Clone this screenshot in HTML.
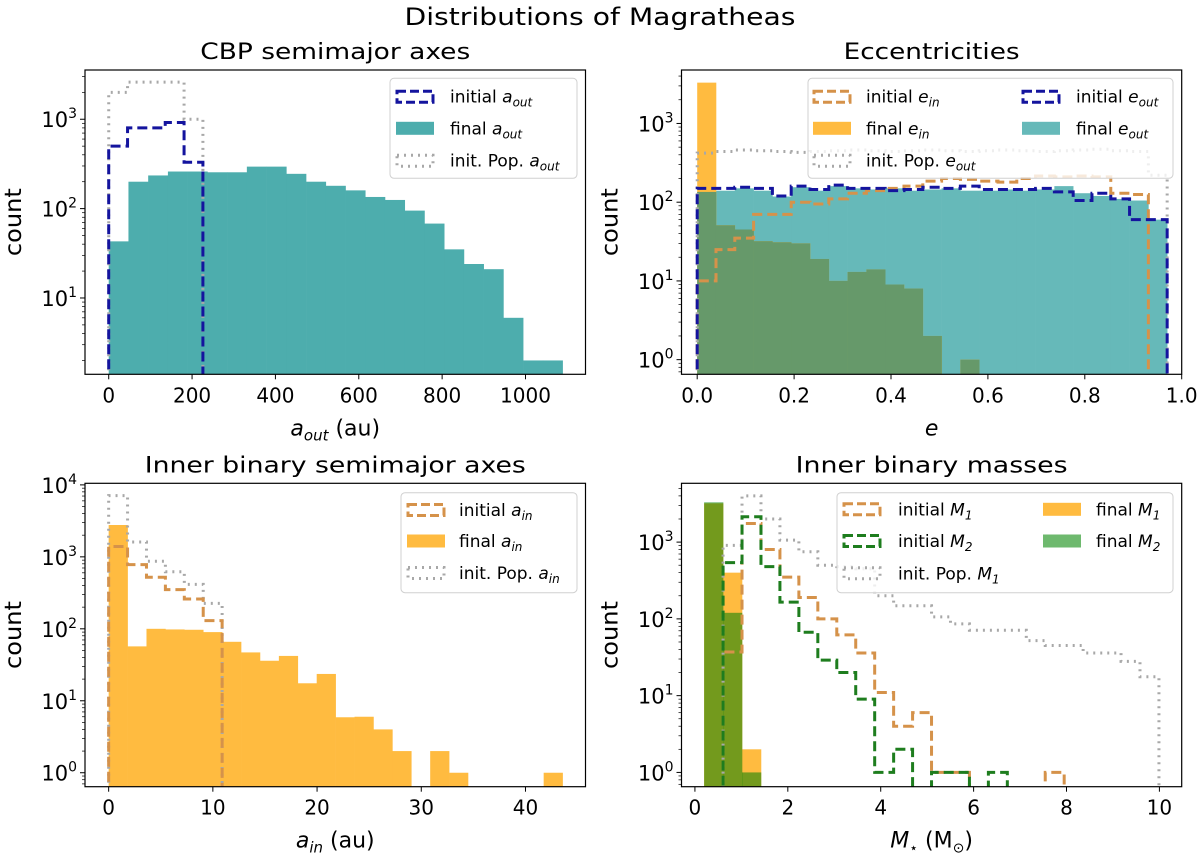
<!DOCTYPE html>
<html><head><meta charset="utf-8"><style>
html,body{margin:0;padding:0;background:#fff;}
svg{display:block;font-family:"DejaVu Sans","Liberation Sans",sans-serif;}
</style></head><body>
<svg id="fig" width="1200" height="855" viewBox="0 0 1200 855" xmlns="http://www.w3.org/2000/svg">
<text x="600" y="25" font-size="24" text-anchor="middle" textLength="391" lengthAdjust="spacingAndGlyphs">Distributions of Magratheas</text>
</svg>
<script>
// ---------- DATA ----------
// Panel 1: CBP semimajor axes
const p1FinalWidth = 47.35;
const p1FinalAout = [43,200,235,260,260,255,255,295,295,245,200,180,160,135,125,95,68,35,24,21,6,2,2];
const p1InitWidth = 45.2;
const p1InitialAout = [500,800,800,920,330];
const p1InitPopAout = [2000,2600,2600,2600,1000];
// Panel 2: eccentricities
const p2Width = 0.0388;
const p2FinalEin = [3300,51,45,32,31,30,19,10,13,14,9,8,2,0,1,0,0,0,0,0,0,0,0,0,0];
const p2FinalEout = [135,140,150,140,118,155,140,160,150,145,150,140,145,150,140,140,145,140,145,160,130,120,110,105,60];
const p2InitialEin = [10,25,35,70,70,100,95,110,130,140,150,160,185,200,195,185,180,200,215,210,215,210,130,125];
const p2InitialEout = [150,150,155,150,120,160,145,165,150,150,140,145,155,150,160,145,145,145,150,135,105,130,110,60,60];
const p2InitPopEout = [420,440,460,450,440,430,440,450,460,450,440,450,460,450,440,450,460,450,440,450,460,470,450,440,220];
// Panel 3: inner binary semimajor axes
const p3Width = 1.815;
const p3FinalAin = [2770,57,100,98,97,90,66,47,36,42,17.5,23.6,5.9,6,4,2,0,2,1,0,0,0,0,1];
const p3InitialAin = [1390,780,520,350,260,130];
const p3InitPopAin = [7100,1610,870,620,415,226];
// Panel 4: inner binary masses
const p4Start = 0.198, p4Width = 0.408;
const p4FinalM1 = [3200,400,2];
const p4FinalM2 = [3300,120,1];
const p4InitialM1 = [0,37,1750,800,350,190,100,62,36,11,4,6,1,1,0,0,0,0,1];
const p4InitialM2 = [0,540,2140,480,165,67,29,20,9,1,2,0,1,1,0,1];
const p4InitPopM1 = [0,906,4000,2000,1060,750,500,480,450,200,148,148,106,86,71,71,71,52,45,45,36,36,28,17.6];
// tick labels
const p1XTicks = [0,200,400,600,800,1000];
const p2XTicks = [0.0,0.2,0.4,0.6,0.8,1.0];
const p3XTicks = [0,10,20,30,40];
const p4XTicks = [0,2,4,6,8,10];

// ---------- DRAWING ----------
const NS = "http://www.w3.org/2000/svg";
const svg = document.getElementById('fig');
function el(tag, attrs, parent){
  const e = document.createElementNS(NS, tag);
  for (const k in attrs) e.setAttribute(k, attrs[k]);
  (parent||svg).appendChild(e);
  return e;
}
const TEAL='#4dadad', TEAL2='#66b9b9', ORANGE='#ffbb40', BLUE='#14149e', BROWN='#d5924a', GREY='#a8a8a8', DGREEN='#1e7d1e', OLIVE_G='rgba(0,128,0,0.55)', ECC_G='#66996a';

function makeAxes(cfg){
  const g = el('g',{});
  
  
  const xs = v => cfg.L + (v - cfg.xmin)/(cfg.xmax - cfg.xmin)*(cfg.R - cfg.L);
  const ys = v => { const lv = v>0 ? Math.log10(v) : cfg.lmin-1; return cfg.B - (lv - cfg.lmin)/(cfg.lmax - cfg.lmin)*(cfg.B - cfg.T); };
  const cid = 'clip-'+cfg.name;
  const defs = el('defs',{},g);
  const cp = el('clipPath',{id:cid},defs);
  el('rect',{x:cfg.L,y:cfg.T,width:cfg.R-cfg.L,height:cfg.B-cfg.T},cp);
  const plot = el('g',{'clip-path':'url(#'+cid+')'},g);
  return {g, plot, xs, ys, cfg};
}
function bars(ax, start, width, vals, fill, name){
  vals.forEach((v,i)=>{
    if(!(v>0)) return;
    const x0 = ax.xs(start+i*width), x1 = ax.xs(start+(i+1)*width);
    const y = ax.ys(v);
    const r = el('rect',{x:x0,y:y,width:x1-x0+0.3,height:ax.cfg.B+5-y,fill:fill},ax.plot);
    
    
  });
}
function step(ax, start, width, vals, color, dash, sw, name){
  const base = ax.cfg.B+10;
  let d = 'M'+ax.xs(start)+','+base;
  vals.forEach((v,i)=>{
    const y = v>0 ? ax.ys(v) : base;
    d += ' L'+ax.xs(start+i*width)+','+y+' L'+ax.xs(start+(i+1)*width)+','+y;
  });
  d += ' L'+ax.xs(start+vals.length*width)+','+base;
  const p = el('path',{d:d,fill:'none',stroke:color,'stroke-width':sw,'stroke-dasharray':dash},ax.plot);
  
  
}
function frame(ax, xticks, xfmt, xlabelParts, title, titleLen){
  const c = ax.cfg, g = ax.g;
  const f = el('rect',{x:c.L,y:c.T,width:c.R-c.L,height:c.B-c.T,fill:'none',stroke:'#000','stroke-width':1.2},g);
  
  
  xticks.forEach(t=>{
    const x = ax.xs(t);
    el('line',{x1:x,x2:x,y1:c.B,y2:c.B+5,stroke:'#000','stroke-width':1},g);
    const tx = el('text',{x:x,y:c.B+28,'font-size':20,'text-anchor':'middle'},g);
    tx.textContent = xfmt(t);
    
    
  });
  for(let e=Math.floor(c.lmin); e<=Math.ceil(c.lmax); e++){
    for(let m=1;m<10;m++){
      const lv = e+Math.log10(m);
      if(lv<c.lmin||lv>c.lmax) continue;
      const y = ax.ys(Math.pow(10,lv));
      el('line',{x1:c.L-(m===1?5:3),x2:c.L,y1:y,y2:y,stroke:'#000','stroke-width':m===1?1:0.7},g);
      if(m===1){
        const tl = el('text',{x:c.L-8,y:y+8,'font-size':21,'text-anchor':'end'},g);
        
        
        const a = el('tspan',{},tl); a.textContent='10';
        const b = el('tspan',{dy:-9,'font-size':14},tl); b.textContent=String(e);
      }
    }
  }
  const yl = el('text',{x:0,y:0,'font-size':23,'text-anchor':'middle',textLength:68,lengthAdjust:'spacingAndGlyphs',transform:'translate('+(c.L-64)+','+((c.T+c.B)/2)+') rotate(-90)'},g);
  yl.textContent='count';
  
  
  const xl = el('text',{x:(c.L+c.R)/2,y:c.B+61,'font-size':22,'text-anchor':'middle'},g);
  
  
  xlabelParts.forEach(p=>{ const s=el('tspan',p.a||{},xl); s.textContent=p.t; });
  const tt = el('text',{x:(c.L+c.R)/2,y:c.T-11,'font-size':22,'text-anchor':'middle',textLength:titleLen,lengthAdjust:'spacingAndGlyphs'},g);
  tt.textContent = title;
  
  
}
function legend(ax, box, entries){
  const g = el('g',{},ax.g);
  
  
  el('rect',{x:box[0],y:box[1],width:box[2],height:box[3],rx:4,fill:'rgba(255,255,255,0.8)',stroke:'#d0d0d0','stroke-width':1},g);
  entries.forEach(en=>{
    const eg = el('g',{},g);
    
    
    if(en.fill) el('rect',{x:en.px,y:en.y-6.5,width:38,height:13,fill:en.fill},eg);
    else el('rect',{x:en.px+1,y:en.y-5.5,width:36,height:11,fill:'none',stroke:en.stroke,'stroke-width':en.sw,'stroke-dasharray':en.dash},eg);
    const t = el('text',{x:en.tx,y:en.y+6,'font-size':17},eg);
    const a=el('tspan',{},t); a.textContent=en.label+' ';
    const b=el('tspan',{'font-style':'italic'},t); b.textContent=en.v;
    const s=el('tspan',{'font-style':'italic','font-size':12,dy:4},t); s.textContent=en.sub;
  });
}

// Panel 1
const a1 = makeAxes({name:'panel-cbp-semimajor',L:85,R:585.5,T:70,B:374.3,xmin:-56.9,xmax:1144,lmin:0.146,lmax:3.551});
bars(a1,0,p1FinalWidth,p1FinalAout,TEAL,'final-aout');
step(a1,0,p1InitWidth,p1InitPopAout,GREY,'2 5',3,'init-pop-aout');
step(a1,0,p1InitWidth,p1InitialAout,BLUE,'10 5',3,'initial-aout');
frame(a1,p1XTicks,v=>String(v),[{t:'a',a:{'font-style':'italic'}},{t:'out',a:{'font-style':'italic','font-size':15,dy:5}},{t:' (au)',a:{dy:-5}}],'CBP semimajor axes',270);
legend(a1,[390,78.3,187,100],[
 {px:396,tx:450,y:96.7,stroke:BLUE,sw:3,dash:'9 4',label:'initial',v:'a',sub:'out'},
 {px:396,tx:450,y:128.3,fill:TEAL,label:'final',v:'a',sub:'out'},
 {px:396,tx:450,y:160.7,stroke:GREY,sw:3,dash:'2 5',label:'init. Pop.',v:'a',sub:'out'}]);

// Panel 2
const a2 = makeAxes({name:'panel-eccentricities',L:681.5,R:1181.7,T:70,B:374.3,xmin:-0.0324,xmax:1.0,lmin:-0.186,lmax:3.679});
bars(a2,0,p2Width,p2FinalEout,TEAL2,'final-eout');
bars(a2,0,p2Width,p2FinalEin,ORANGE,'final-ein');
bars(a2,0,p2Width,p2FinalEin.map((v,i)=>Math.min(v,p2FinalEout[i]||0)),ECC_G,'final-ein-overlap');
step(a2,0,p2Width,p2InitPopEout,GREY,'2 5',3,'init-pop-eout');
step(a2,0,p2Width,p2InitialEin,BROWN,'10 5',3,'initial-ein');
step(a2,0,p2Width,p2InitialEout,BLUE,'10 5',3,'initial-eout');
frame(a2,p2XTicks,v=>v.toFixed(1),[{t:'e',a:{'font-style':'italic'}}],'Eccentricities',176);
legend(a2,[808,78.3,365,100],[
 {px:813,tx:866,y:96.7,stroke:BROWN,sw:3,dash:'9 4',label:'initial',v:'e',sub:'in'},
 {px:813,tx:866,y:128.3,fill:ORANGE,label:'final',v:'e',sub:'in'},
 {px:813,tx:866,y:160.7,stroke:GREY,sw:3,dash:'2 5',label:'init. Pop.',v:'e',sub:'out'},
 {px:1022,tx:1076,y:96.7,stroke:BLUE,sw:3,dash:'9 4',label:'initial',v:'e',sub:'out'},
 {px:1022,tx:1076,y:128.3,fill:TEAL2,label:'final',v:'e',sub:'out'}]);

// Panel 3
const a3 = makeAxes({name:'panel-inner-semimajor',L:85,R:585.5,T:483.3,B:786.7,xmin:-2.27,xmax:45.76,lmin:-0.194,lmax:4.022});
bars(a3,0,p3Width,p3FinalAin,ORANGE,'final-ain');
step(a3,0,p3Width,p3InitPopAin,GREY,'2 5',3,'init-pop-ain');
step(a3,0,p3Width,p3InitialAin,BROWN,'10 5',3,'initial-ain');
frame(a3,p3XTicks,v=>String(v),[{t:'a',a:{'font-style':'italic'}},{t:'in',a:{'font-style':'italic','font-size':15,dy:5}},{t:' (au)',a:{dy:-5}}],'Inner binary semimajor axes',381);
legend(a3,[401,492.7,176,100],[
 {px:407,tx:459,y:510,stroke:BROWN,sw:3,dash:'9 4',label:'initial',v:'a',sub:'in'},
 {px:407,tx:459,y:541,fill:ORANGE,label:'final',v:'a',sub:'in'},
 {px:407,tx:459,y:573,stroke:GREY,sw:3,dash:'2 5',label:'init. Pop.',v:'a',sub:'in'}]);

// Panel 4
const a4 = makeAxes({name:'panel-inner-masses',L:681.5,R:1181.7,T:483.3,B:786.7,xmin:-0.289,xmax:10.48,lmin:-0.186,lmax:3.766});
bars(a4,p4Start,p4Width,p4FinalM1,ORANGE,'final-m1');
bars(a4,p4Start,p4Width,p4FinalM2,OLIVE_G,'final-m2');
step(a4,p4Start,p4Width,p4InitPopM1,GREY,'2 5',3,'init-pop-m1');
step(a4,p4Start,p4Width,p4InitialM1,BROWN,'10 5',3,'initial-m1');
step(a4,p4Start,p4Width,p4InitialM2,DGREEN,'10 5',3,'initial-m2');
frame(a4,p4XTicks,v=>String(v),[{t:'M',a:{'font-style':'italic'}},{t:'⋆',a:{'font-size':14,dy:5}},{t:'  (M',a:{dy:-5}},{t:'⊙',a:{'font-size':14,dy:5}},{t:')',a:{dy:-5}}],'Inner binary masses',272);
legend(a4,[837,492.7,336,100],[
 {px:843,tx:898,y:509.3,stroke:BROWN,sw:3,dash:'9 4',label:'initial',v:'M',sub:'1'},
 {px:843,tx:898,y:541,stroke:DGREEN,sw:3,dash:'9 4',label:'initial',v:'M',sub:'2'},
 {px:843,tx:898,y:573.3,stroke:GREY,sw:3,dash:'2 5',label:'init. Pop.',v:'M',sub:'1'},
 {px:1043,tx:1096,y:509.3,fill:ORANGE,label:'final',v:'M',sub:'1'},
 {px:1043,tx:1096,y:541,fill:'#6eb96e',label:'final',v:'M',sub:'2'}]);
</script>
</body></html>
